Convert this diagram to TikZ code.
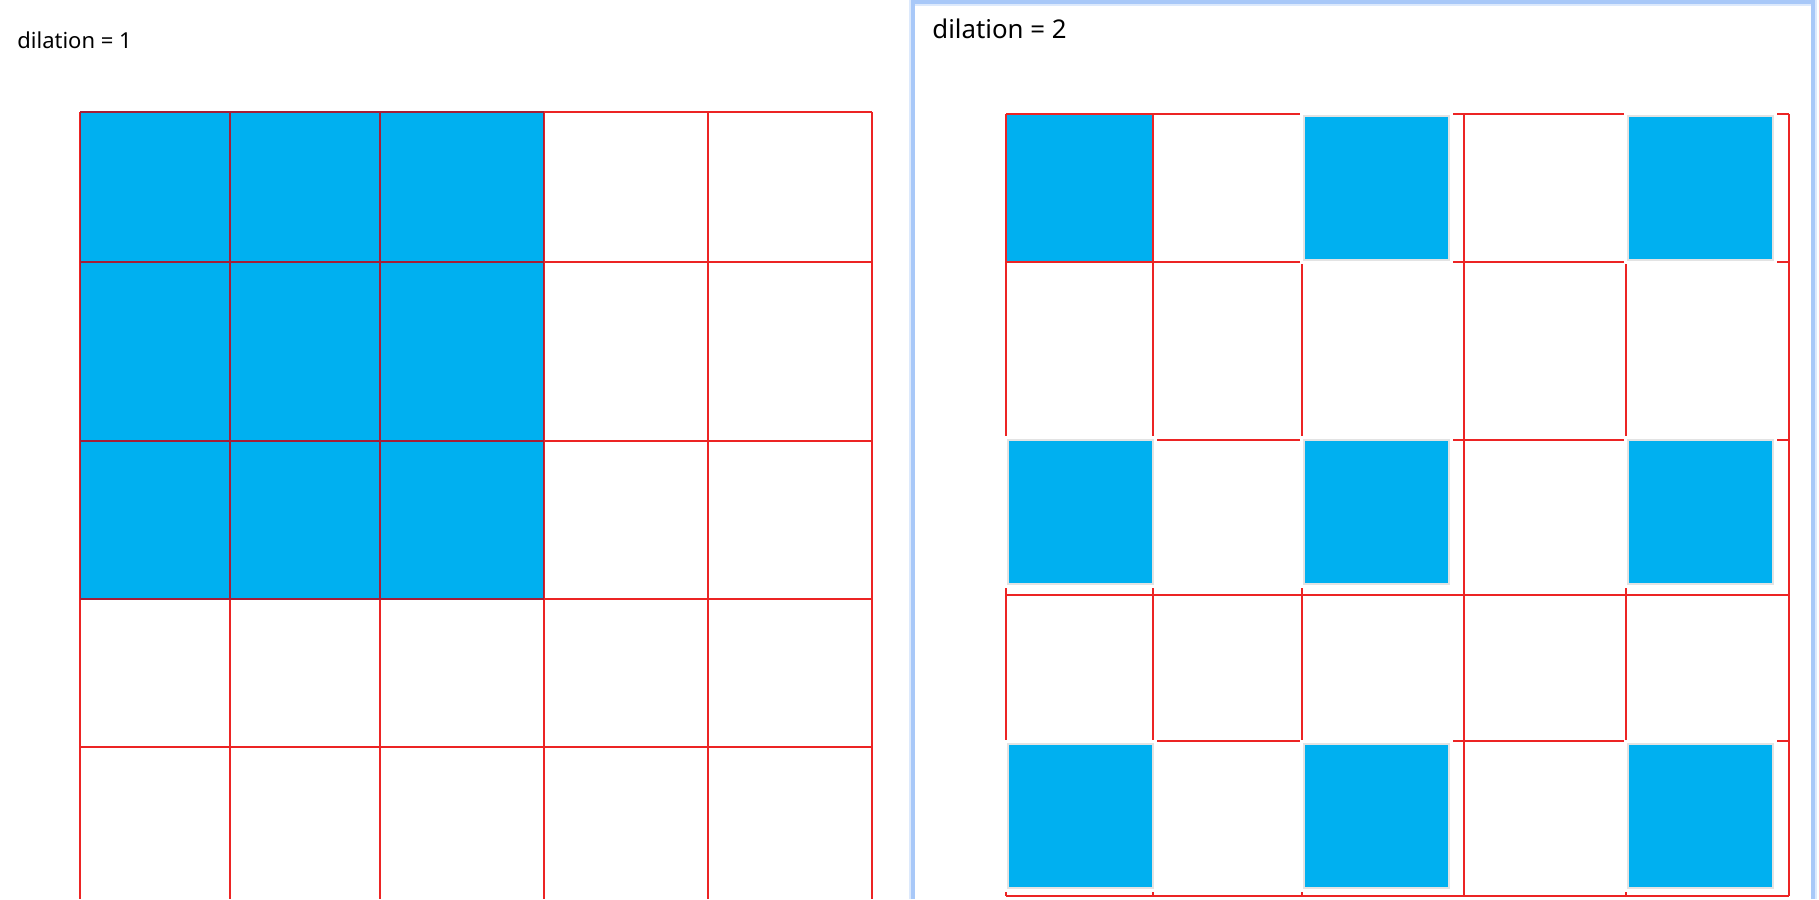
\documentclass[tikz,border=0pt]{standalone}
\usepackage{fontspec}
\setmainfont{Noto Sans}
\usetikzlibrary{positioning}
\definecolor{cellblue}{RGB}{0,176,240}
\definecolor{gridred}{RGB}{236,36,36}
\definecolor{darkred}{RGB}{165,30,55}
\definecolor{panelblue}{RGB}{168,200,248}

\begin{document}
\begin{tikzpicture}[
				x=0.5pt, y=-0.5pt,
				gridline/.style={draw=gridred, line width=1.4pt},
				shadedline/.style={draw=darkred, line width=1.4pt},
				panelline/.style={draw=panelblue, line width=1.8pt},
				dilatedcell/.style={fill=cellblue, draw=gray!22, line width=0.8pt},
				labelnode/.style={anchor=base west, inner sep=0pt},
				]
				\useasboundingbox (0,0) rectangle (1819,899);
				\fill[white] (0,0) rectangle (1819,899);
				
				%Labels
				\node[labelnode, font=\fontsize{11}{13}\selectfont] (label1) at (17,49) {dilation = 1};
				\node[labelnode, font=\fontsize{12.9}{15}\selectfont] (label2) at (932,39) {dilation = 2};
				
				%Left grid
				\fill[cellblue] (80,112) rectangle (544,599);
				\foreach \x in {80,230,380,544,708,872}
					\draw[gridline] (\x,112) -- (\x,899);
				\foreach \y in {112,262,441,599,747}
					\draw[gridline] (80,\y) -- (872,\y);
				\begin{scope}
					\clip (80,112) rectangle (544,599);
					\foreach \x in {80,230,380,544}
						\draw[shadedline] (\x,112) -- (\x,599);
					\foreach \y in {112,262,441,599}
						\draw[shadedline] (80,\y) -- (544,\y);
				\end{scope}
				
				%Right panel
				\draw[panelline, draw opacity=0.4, line width=3.2pt] (912,899) -- (912,3) -- (1814,3) -- (1814,899);
				\draw[panelline] (913,899) -- (913,2) -- (1813,2) -- (1813,899);
				
				%Right grid
				\fill[cellblue] (1006,114) rectangle (1153,262);
				\foreach \x in {1006,1153,1302,1464,1626,1789}
					\draw[gridline] (\x,114) -- (\x,896);
				\foreach \y in {114,262,440,595,741,896}
					\draw[gridline] (1006,\y) -- (1789,\y);
				\foreach \cx/\cy in {1304/116,1628/116,1008/440,1304/440,1628/440,1008/744,1304/744,1628/744}{
					\fill[white] (\cx-4,\cy-4) rectangle +(153,152);
					\draw[dilatedcell] (\cx,\cy) rectangle +(145,144);
				}
				
			\end{tikzpicture}
\end{document}
